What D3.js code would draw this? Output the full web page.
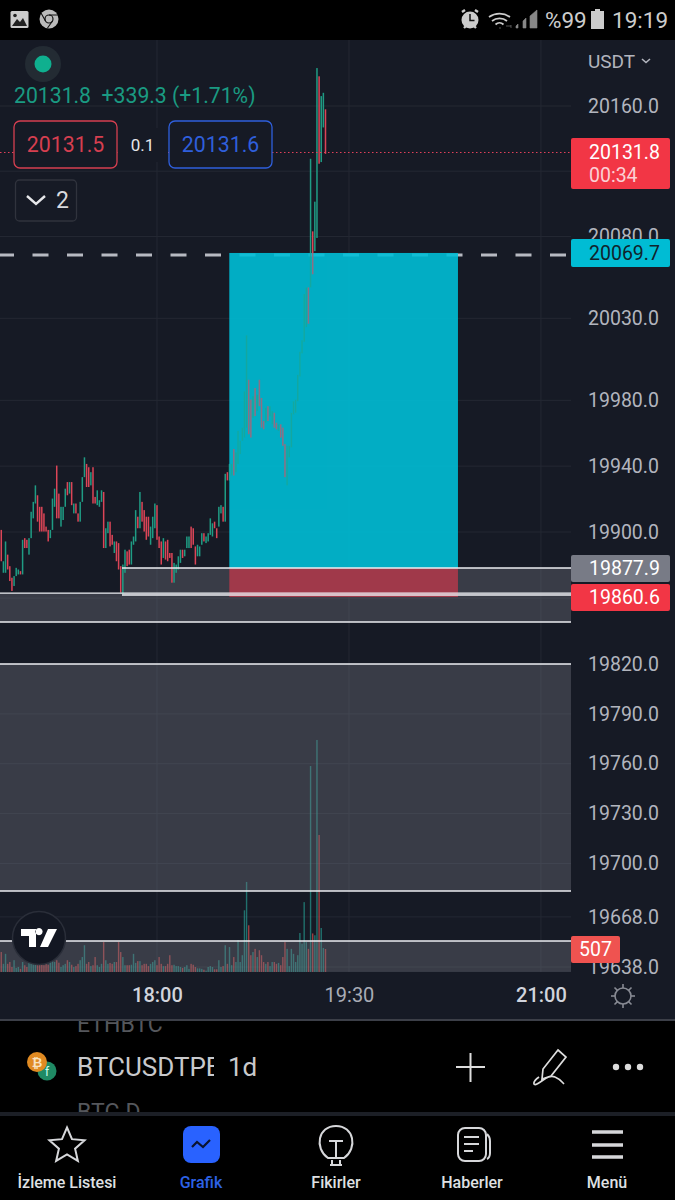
<!DOCTYPE html>
<html><head><meta charset="utf-8">
<script src="https://cdn.jsdelivr.net/npm/d3@7"></script>
<style>html,body{margin:0;background:#000;overflow:hidden}svg{display:block}text{font-family:Roboto,sans-serif}</style>
</head><body><div id="c"></div>
<script>
// Candle series, 1-minute bars
const highs=[
19903,19884,19896,19888,19881,19874,19875,19880,19879,19878,
19897,19898,19897,19898,19914,19920,19930,19924,19917,19917,
19913,19905,19903,19903,19922,19928,19942,19925,19917,19917,
19928,19932,19932,19932,19919,19919,19913,19920,19935,19947,
19943,19941,19938,19941,19923,19927,19921,19927,19926,19904,
19908,19908,19900,19896,19896,19895,19881,19882,19891,19890,
19891,19896,19899,19915,19911,19926,19920,19915,19911,19911,
19905,19911,19919,19918,19899,19896,19898,19896,19897,19889,
19889,19883,19882,19887,19891,19891,19891,19899,19899,19905,
19904,19893,19894,19893,19901,19901,19899,19901,19910,19907,
19908,19904,19917,19918,19917,19937,19938,19943,19943,19952,
19950,19963,19957,19965,19987,20021,19994,19982,19984,19989,
19985,19994,19983,19969,19977,19978,19978,19975,19974,19968,
19967,19967,19965,19955,19954,19954,19974,19981,19982,19997,
20011,20018,20046,20050,20050,20128,20084,20102,20183,20178,
20166,20168,20158];
const lows=[
19884,19877,19877,19879,19872,19866,19869,19875,19876,19876,
19876,19892,19892,19888,19898,19910,19919,19908,19902,19902,
19902,19902,19896,19898,19903,19917,19910,19910,19905,19909,
19917,19924,19925,19918,19913,19913,19908,19908,19920,19935,
19929,19929,19930,19919,19919,19918,19917,19920,19892,19892,
19901,19893,19894,19889,19884,19879,19865,19864,19877,19881,
19882,19882,19894,19896,19904,19904,19908,19902,19897,19899,
19894,19898,19904,19897,19892,19882,19886,19885,19884,19886,
19871,19871,19877,19879,19883,19886,19887,19892,19892,19892,
19894,19882,19887,19887,19894,19896,19895,19896,19900,19899,
19904,19898,19905,19913,19908,19908,19933,19933,19936,19936,
19938,19943,19949,19957,19959,19965,19961,19959,19971,19972,
19975,19978,19965,19964,19968,19969,19972,19967,19965,19964,
19963,19959,19954,19935,19930,19947,19953,19973,19974,19981,
19996,20010,20017,20026,20028,20050,20058,20072,20080,20125,
20126,20147,20131];
// 1 = rising bar, 0 = falling bar
const rising=[
0,1,1,0,0,0,1,1,1,0,
1,0,0,1,1,1,1,0,0,0,
0,0,0,1,1,1,0,0,1,1,
1,0,1,0,1,0,0,1,1,1,
0,0,1,0,0,1,1,1,0,1,
1,0,0,1,0,0,0,1,1,0,
0,1,1,1,0,1,0,0,0,0,
1,1,1,0,0,0,1,0,0,0,
0,1,1,1,1,0,1,1,1,0,
0,0,1,1,1,0,1,1,1,1,
0,0,1,1,0,1,0,1,1,0,
1,1,1,1,1,1,0,0,1,0,
1,0,0,0,1,0,1,1,0,0,
1,0,0,0,1,1,1,1,1,1,
1,1,1,1,0,1,0,1,1,0,
1,1,0];
const volumes=[
440,180,400,180,220,110,260,90,110,70,
220,150,110,220,205,180,180,150,205,220,
150,220,160,260,290,220,260,205,110,150,
180,260,220,160,110,130,180,260,330,590,
180,220,130,150,330,150,110,180,660,260,
180,200,180,220,220,660,440,330,150,150,
150,160,400,200,240,240,150,180,180,130,
180,220,260,150,330,180,130,130,180,370,
150,160,130,130,110,90,110,150,70,180,
160,110,80,80,70,50,30,110,130,110,
60,60,260,110,130,590,180,550,150,330,
220,700,220,370,1360,1985,1030,370,440,510,
330,480,370,220,180,220,130,220,220,180,
200,150,330,660,510,130,510,400,220,370,
860,625,1540,660,510,4540,850,810,5115,3020,
970,530,507];
const priceTicks=[20160,20120,20080,20030,19980,19940,19900,19860,19820,19790,19760,19730,19700,19668,19638];
const hiddenPriceLabels=[20120,19860];
const timeTickIndex=[73,163,253];
const timeTickLabels=["18:00","19:30","21:00"];
const lastPrice=20131.8, entryPrice=20069.7, targetBoundary=19879.9, stopPrice=19862.3;
const boxTop=20070.9;
// support / resistance zones
const zoneTops=[19879.9,19864.7,19821.7,19653.8];
const zoneBottoms=[19863.5,19847.2,19684.1,19635];
const zoneStarts=[56.6,-1,-1,-1];
const navLabels=["İzleme Listesi","Grafik","Fikirler","Haberler","Menü"];

const W=675,H=1200,paneR=571,BG="#161a25",GREEN="#1f9c84",RED="#dc4557",AXIS="#b2b5be";
const y=d3.scaleLinear().domain([19638,20160]).range([967,106]);
const yAxis=d3.scaleLog().domain([19638,20160]).range([967,106]);
const x=d3.scaleLinear().domain([0,152]).range([1.27,325.5]);
const v=d3.scaleLinear().domain([0,507]).range([972,949]);
const svg=d3.select("#c").append("svg").attr("width",W).attr("height",H);
const defs=svg.append("defs");
defs.append("clipPath").attr("id","pane").append("rect").attr("x",0).attr("y",40).attr("width",paneR).attr("height",932);
defs.append("clipPath").attr("id","boxclip").append("rect").attr("x",x(106.9)).attr("y",y(boxTop)).attr("width",x(214.1)-x(106.9)).attr("height",y(targetBoundary)-y(boxTop));
defs.append("clipPath").attr("id","sym").append("rect").attr("x",70).attr("y",1040).attr("width",144).attr("height",50);
defs.append("clipPath").attr("id","listclip").append("rect").attr("x",0).attr("y",1021).attr("width",675).attr("height",91);

svg.append("rect").attr("width",W).attr("height",H).attr("fill","#000");
svg.append("rect").attr("y",40).attr("width",W).attr("height",980).attr("fill",BG);

// grid
const grid=svg.append("g");
grid.selectAll("line.h").data(priceTicks).join("line").attr("class","h").attr("x1",0).attr("x2",paneR).attr("y1",d=>yAxis(d)).attr("y2",d=>yAxis(d)).attr("stroke","#242833");
grid.selectAll("line.v").data(timeTickIndex).join("line").attr("class","v").attr("x1",d=>x(d)).attr("x2",d=>x(d)).attr("y1",40).attr("y2",972).attr("stroke","#242833");

const chart=svg.append("g").attr("clip-path","url(#pane)");
// volume
chart.selectAll("rect.vol").data(volumes).join("rect").attr("class","vol").attr("x",(d,i)=>x(i)-.7).attr("width",1.4)
 .attr("y",d=>v(d)).attr("height",d=>v(0)-v(d)).attr("fill",(d,i)=>rising[i]?"#26a69a":"#ef5350").attr("opacity",.62);
// zones
chart.selectAll("rect.zone").data(zoneTops).join("rect").attr("class","zone").attr("x",(d,i)=>Math.max(0,x(zoneStarts[i]))).attr("width",(d,i)=>paneR-Math.max(0,x(zoneStarts[i])))
 .attr("y",d=>y(d)).attr("height",(d,i)=>y(zoneBottoms[i])-y(d)).attr("fill","#787b86").attr("opacity",.36);

function candles(g){
 g.selectAll("rect").data(highs).join("rect").attr("x",(d,i)=>x(i)-.75).attr("width",1.5)
  .attr("y",d=>y(d)).attr("height",(d,i)=>y(lows[i])-y(d)).attr("fill",(d,i)=>rising[i]?GREEN:RED);
}
chart.append("g").call(candles);
// dashed entry line
chart.append("line").attr("x1",-2).attr("x2",paneR).attr("y1",y(entryPrice)).attr("y2",y(entryPrice)).attr("stroke","#b7bac2").attr("stroke-width",3).attr("stroke-dasharray","16 18.5");
// position box
chart.append("rect").attr("x",x(106.9)).attr("width",x(214.1)-x(106.9)).attr("y",y(boxTop)).attr("height",y(targetBoundary)-y(boxTop)).attr("fill","#00bed6").attr("opacity",.9);
chart.append("g").attr("clip-path","url(#boxclip)").attr("opacity",.62).call(candles);
chart.append("rect").attr("x",x(106.9)).attr("width",x(214.1)-x(106.9)).attr("y",y(targetBoundary)).attr("height",y(stopPrice)-y(targetBoundary)).attr("fill","#a8394a").attr("opacity",.93);
// zone edges
const edges=[];zoneTops.forEach((d,i)=>{edges.push([d,zoneStarts[i]]);if(i<3)edges.push([zoneBottoms[i],zoneStarts[i]]);});
chart.selectAll("line.edge").data(edges).join("line").attr("class","edge").attr("x1",d=>Math.max(0,x(d[1]))).attr("x2",paneR).attr("y1",d=>y(d[0])).attr("y2",d=>y(d[0])).attr("stroke","#eceef2").attr("stroke-width",1.4);
// last price line
chart.append("line").attr("x1",0).attr("x2",paneR).attr("y1",y(lastPrice)).attr("y2",y(lastPrice)).attr("stroke","#e0405a").attr("stroke-width",1).attr("stroke-dasharray","1.5 2.5");

// axes
const ya=svg.append("g").attr("transform",`translate(${paneR},0)`).call(d3.axisRight(yAxis).tickValues(priceTicks.filter(d=>!hiddenPriceLabels.includes(d))).tickSize(0).tickPadding(17).tickFormat(d3.format(".1f")));
ya.select(".domain").remove();
ya.selectAll("text").attr("fill",AXIS).style("font-size","19.5px").style("font-family","Roboto");
const xa=svg.append("g").attr("transform","translate(0,972)").call(d3.axisBottom(x).tickValues(timeTickIndex).tickSize(0).tickPadding(16).tickFormat((d,i)=>timeTickLabels[i]));
xa.select(".domain").remove();
xa.selectAll("text").style("font-size","20px").style("font-family","Roboto").style("font-weight",(d,i)=>i==1?400:500).attr("fill",(d,i)=>i==1?"#a9acb5":"#d1d4dc");
svg.append("rect").attr("y",975).attr("width",W).attr("height",4).attr("fill",BG);

// price labels
function tag(yy,h,w,fill,t,col){
 svg.append("rect").attr("x",paneR).attr("y",yy).attr("width",w).attr("height",h).attr("rx",2).attr("fill",fill);
 svg.append("text").attr("x",paneR+(w>60?18:w/2)).attr("y",yy+h/2+6.5).attr("text-anchor",w>60?"start":"middle").attr("font-size",19.5).attr("fill",col).text(t);
}
svg.append("rect").attr("x",paneR).attr("y",138).attr("width",99).attr("height",51).attr("rx",2).attr("fill","#f23645");
svg.append("text").attr("x",589).attr("y",159).attr("font-size",19.5).attr("fill","#fff").text(d3.format(".1f")(lastPrice));
svg.append("text").attr("x",589).attr("y",182).attr("font-size",19.5).attr("fill","#fbd0d5").text("00:34");
tag(239,28,99,"#00bcd4",d3.format(".1f")(entryPrice),"#10232c");
tag(555,27,99,"#787b86","19877.9","#fff");
tag(584,27,99,"#f23645","19860.6","#fff");
tag(936,27,49,"#ef5350","507","#fff");

// overlay UI
svg.append("circle").attr("cx",43).attr("cy",64).attr("r",18).attr("fill","#232b33");
svg.append("circle").attr("cx",43).attr("cy",64).attr("r",8.5).attr("fill","#0fb08f");
svg.append("text").attr("x",14).attr("y",103).attr("font-size",21.2).attr("fill","#1a9a82").attr("xml:space","preserve").style("white-space","pre").text("20131.8  +339.3 (+1.71%)");
function btn(xx,c,t){
 svg.append("rect").attr("x",xx).attr("y",121).attr("width",103).attr("height",47).attr("rx",6).attr("fill",BG).attr("stroke",c).attr("stroke-width",1.3);
 svg.append("text").attr("x",xx+51.5).attr("y",152).attr("text-anchor","middle").attr("font-size",21.3).attr("fill",c).text(t);
}
btn(14,"#d63f50","20131.5");btn(169,"#2f5fdc","20131.6");
svg.append("rect").attr("x",120).attr("y",128).attr("width",46).attr("height",34).attr("fill",BG);
svg.append("text").attr("x",142.5).attr("y",151).attr("text-anchor","middle").attr("font-size",17).attr("fill","#e6e7ea").text("0.1");
svg.append("rect").attr("x",15.5).attr("y",180).attr("width",61).attr("height",41).attr("rx",4).attr("fill",BG).attr("stroke","#30333d").attr("stroke-width",1.3);
svg.append("path").attr("d","M27 196l9 8 9-8").attr("fill","none").attr("stroke","#e6e7ea").attr("stroke-width",2.4);
svg.append("text").attr("x",56).attr("y",208).attr("font-size",23).attr("fill","#d8d9dd").text("2");
svg.append("text").attr("x",588).attr("y",68).attr("font-size",19).attr("fill",AXIS).text("USDT");
svg.append("path").attr("d","M642 59l4 3.5 4-3.5").attr("fill","none").attr("stroke",AXIS).attr("stroke-width",1.6);

// tv logo
svg.append("circle").attr("cx",39).attr("cy",938).attr("r",26.5).attr("fill","#131722").attr("stroke","#2a2e39").attr("stroke-width",1.5);
svg.append("path").attr("d","M21 929H36V947H29V936H21Z M39 928a3.6 3.6 0 1 0 .01 0Z M48 929H57L48 947H40Z").attr("fill","#fff");
// gear/sun
const gear=svg.append("g").attr("transform","translate(623,996)").attr("stroke","#878a93").attr("fill","none").attr("stroke-width",1.6);
gear.append("circle").attr("r",8);
d3.range(8).forEach(k=>gear.append("line").attr("y1",-8).attr("y2",-12).attr("transform",`rotate(${k*45})`));

// status bar
svg.append("rect").attr("x",10.5).attr("y",11).attr("width",18).attr("height",17).attr("rx",1.5).attr("fill","#ccc");
svg.append("path").attr("d","M12 26l5-7 3 3 3-4 4 8Z").attr("fill","#222");svg.append("circle").attr("cx",15).attr("cy",15.5).attr("r",1.8).attr("fill","#222");
svg.append("circle").attr("cx",49).attr("cy",19).attr("r",9.5).attr("fill","#bbb");
svg.append("circle").attr("cx",49).attr("cy",19).attr("r",4).attr("fill","#bbb").attr("stroke","#111").attr("stroke-width",1.2);
svg.append("path").attr("d","M49 15h9M45.5 21l-4.5-8M52.5 21l-5 7").attr("stroke","#111").attr("stroke-width",1.1);
svg.append("circle").attr("cx",470).attr("cy",20).attr("r",8.5).attr("fill","#ccc");
svg.append("path").attr("d","M470 14v6.5h4.5").attr("stroke","#111").attr("stroke-width",1.5).attr("fill","none");
svg.append("path").attr("d","M462 12l3-2M478 12l-3-2M464 28l2-2M476 28l-2-2").attr("stroke","#ccc").attr("stroke-width",2.4);
svg.append("path").attr("d","M489 17a18 18 0 0 1 21 0M492 21a12 12 0 0 1 15 0M495.500 24.500a6 6 0 0 1 8 0").attr("fill","none").attr("stroke","#ccc").attr("stroke-width",1.7);
svg.append("path").attr("d","M499 28h2M511 25v3M506 26h5M516 28v-2l2-2v4ZM523 28v-7l3-3v10ZM530 28v-12l7-6v18Z").attr("stroke","#888").attr("fill","#888").attr("stroke-width",.6);
svg.append("text").attr("x",545).attr("y",28).attr("font-size",22.5).attr("fill","#ccc").text("%99");
svg.append("path").attr("d","M591 11h4v-2h5v2h4v18h-13Z").attr("fill","#ccc");
svg.append("text").attr("x",612).attr("y",28).attr("font-size",22.5).attr("fill","#ccc").text("19:19");

// bottom bars
svg.append("rect").attr("y",1020).attr("width",W).attr("height",180).attr("fill","#000");
svg.append("rect").attr("y",1019).attr("width",W).attr("height",2).attr("fill","#3c3f48");
const list=svg.append("g").attr("clip-path","url(#listclip)");
list.append("text").attr("x",77).attr("y",1032).attr("font-size",23).attr("fill","#55575c").text("ETHBTC");
list.append("text").attr("x",77).attr("y",1120).attr("font-size",23).attr("fill","#55575c").text("BTC.D");
svg.append("rect").attr("y",1112).attr("width",W).attr("height",4).attr("fill","#1c1f26");
svg.append("circle").attr("cx",47).attr("cy",1071).attr("r",9.5).attr("fill","#1f8a64");
svg.append("text").attr("x",47).attr("y",1076).attr("text-anchor","middle").attr("font-size",12).attr("fill","#cfe").text("f");
svg.append("circle").attr("cx",37).attr("cy",1062).attr("r",10).attr("fill","#e08a22");
svg.append("text").attr("x",37).attr("y",1067).attr("text-anchor","middle").attr("font-size",13).attr("font-weight",700).attr("fill","#f8e2c0").text("₿");
svg.append("text").attr("clip-path","url(#sym)").attr("x",77).attr("y",1076).attr("font-size",26).attr("font-weight",400).attr("fill","#c8c9cc").text("BTCUSDTPE");
svg.append("text").attr("x",228).attr("y",1076).attr("font-size",26).attr("font-weight",400).attr("fill","#c8c9cc").text("1d");
svg.append("path").attr("d","M456 1067h29M470.500 1053v29").attr("stroke","#ddd").attr("stroke-width",2).attr("fill","none");
svg.append("path").attr("d","M558 1050l8 7-15 19-9 3 1-10ZM539 1077c-7 5-6 9-2 7 6-3 12-10 18-7 5 2 7 5 9 7").attr("stroke","#ddd").attr("stroke-width",1.7).attr("fill","none");
[616,628,640].forEach(c=>svg.append("circle").attr("cx",c).attr("cy",1067).attr("r",3.2).attr("fill","#ddd"));

// nav
const navC="#d6d7da";
svg.append("path").attr("d",(()=>{const p=[];for(let k=0;k<10;k++){const r=k%2?8.5:18.5,a=-Math.PI/2+k*Math.PI/5;p.push([67+r*Math.cos(a),1146+r*Math.sin(a)]);}return d3.line()(p)+"Z";})()).attr("fill","none").attr("stroke",navC).attr("stroke-width",2);
svg.append("rect").attr("x",183).attr("y",1126).attr("width",37).attr("height",37).attr("rx",8).attr("fill","#2962ff");
svg.append("path").attr("d","M192 1147l5-5 6 5 7-7").attr("fill","none").attr("stroke","#0b1430").attr("stroke-width",2.2);
svg.append("path").attr("d","M328 1158c-14-10-10-32 8-32s22 22 8 32ZM330 1165h12M332 1160v5h8v-5M329 1141h14M336 1141v17").attr("fill","none").attr("stroke",navC).attr("stroke-width",2);
svg.append("rect").attr("x",458).attr("y",1128).attr("width",28).attr("height",33).attr("rx",7).attr("fill","none").attr("stroke",navC).attr("stroke-width",2);
svg.append("path").attr("d","M464 1137h15M464 1144h15M464 1151h9M487 1134c2 2 3 4 3 7v12c0 3-1 5-3 6").attr("fill","none").attr("stroke",navC).attr("stroke-width",2);
svg.append("path").attr("d","M592 1132h31M592 1145h31M592 1157h31").attr("stroke",navC).attr("stroke-width",3.4);
const navX=[67,201,336,472,607];
svg.selectAll("text.nav").data(navLabels).join("text").attr("class","nav").attr("x",(d,i)=>navX[i]).attr("y",1188).attr("text-anchor","middle")
 .attr("font-size",16).attr("font-weight",500).attr("fill",(d,i)=>i==1?"#2d62e6":"#dfe0e3").text(d=>d);
</script></body></html>
